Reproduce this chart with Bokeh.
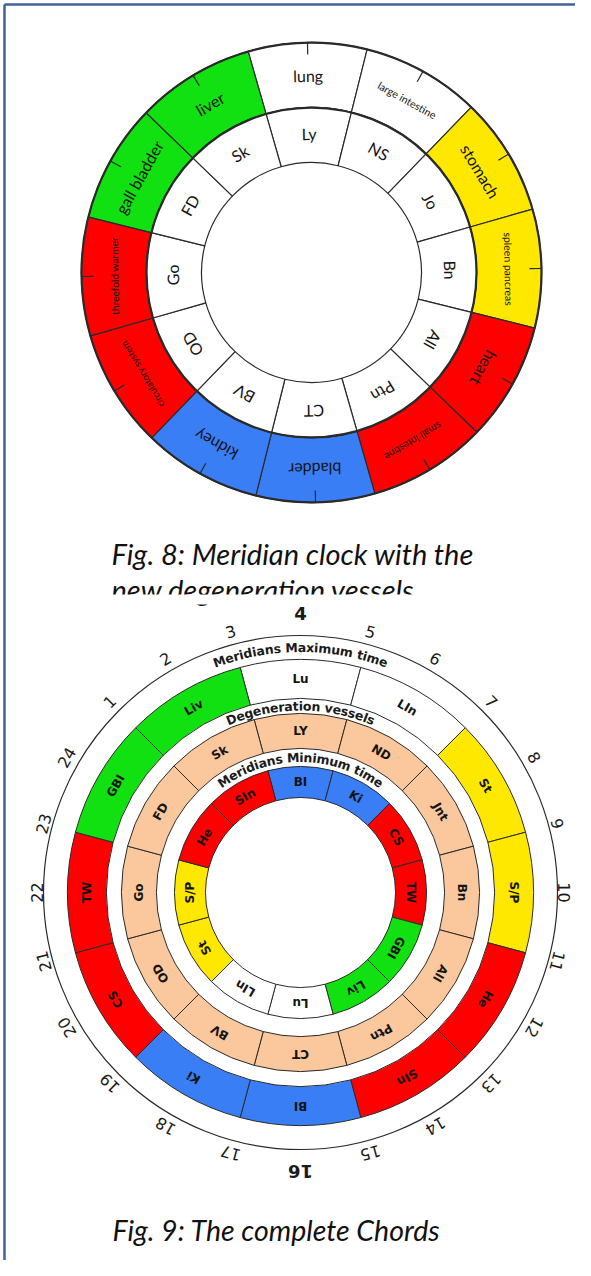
import math, glob
from bokeh.plotting import figure
from bokeh.models import ColumnDataSource, Range1d
from bokeh.core.properties import value
from bokeh.embed import file_html
from bokeh.resources import INLINE

# ---------------- data ----------------
# Fig. 8 : meridian clock (outer ring organs, inner ring vessels), clockwise from top
f8_organs = ["lung", "large intestine", "stomach", "spleen pancreas", "heart", "small intestine",
             "bladder", "kidney", "circulatory system", "threefold warmer", "gall bladder", "liver"]
f8_organ_colors = ["#FFFFFF", "#FFFFFF", "#FFE800", "#FFE800", "#FF0000", "#FF0000",
                   "#3A7EF6", "#3A7EF6", "#FF0000", "#FF0000", "#11E011", "#11E011"]
f8_vessels = ["Ly", "NS", "Jo", "Bn", "All", "Ptn", "CT", "BV", "OD", "Go", "FD", "Sk"]

# Fig. 9 : the complete chords, clockwise from top
f9_max = ["Lu", "LIn", "St", "S/P", "He", "SIn", "BI", "Ki", "CS", "TW", "GBI", "Liv"]
f9_max_colors = ["#FFFFFF", "#FFFFFF", "#FFE800", "#FFE800", "#FF0000", "#FF0000",
                 "#3A7EF6", "#3A7EF6", "#FF0000", "#FF0000", "#11E011", "#11E011"]
f9_deg = ["LY", "ND", "Jnt", "Bn", "All", "Ptn", "CT", "BV", "OD", "Go", "FD", "Sk"]
f9_min = ["BI", "Ki", "CS", "TW", "GBI", "Liv", "Lu", "LIn", "St", "S/P", "He", "SIn"]
f9_min_colors = ["#3A7EF6", "#3A7EF6", "#FF0000", "#FF0000", "#11E011", "#11E011",
                 "#FFFFFF", "#FFFFFF", "#FFE800", "#FFE800", "#FF0000", "#FF0000"]
hours = [str(h) for h in range(1, 25)]
ring_titles = ["Meridians Maximum time", "Degeneration vessels", "Meridians Minimum time"]
caption8 = ["Fig. 8:  Meridian clock with the", "new degeneration vessels"]
caption9 = "Fig. 9: The complete Chords"

# ---------------- styles ----------------
f8_organ_sizes = [16, 10.5, 16, 10.5, 16, 10.3, 16, 16, 9.5, 10.2, 16, 16]
PEACH = "#FAC89C"
LINE = "#2a2a2a"

# char width helper (DejaVu Sans Bold)
_fb = {' ': .348, 'M': .995, 'D': .830, 'e': .678, 'r': .493, 'i': .343, 'd': .716, 'a': .675,
       'n': .712, 's': .595, 'x': .663, 'm': 1.042, 'u': .712, 't': .478, 'g': .716, 'o': .687,
       'v': .652, 'l': .343}
try:
    from PIL import ImageFont
    _paths = glob.glob('/usr/share/fonts/**/DejaVuSans-Bold.ttf', recursive=True)
    _font = ImageFont.truetype(_paths[0], 200)
    def cw(ch):
        return _font.getlength(ch) / 200.0
except Exception:
    def cw(ch):
        return _fb.get(ch, 0.65)

W, H = 575, 1260
p = figure(width=W, height=H, x_range=Range1d(8, 8 + W), y_range=Range1d(-(8 + H), -8),
           output_backend="svg", toolbar_location=None, x_axis_type=None, y_axis_type=None,
           min_border=0)
p.outline_line_color = None
p.grid.visible = False
p.background_fill_color = "white"
p.border_fill_color = "white"

# page border (blue frame)
p.segment(x0=[12, 12], y0=[-12, -12], x1=[12, 600], y1=[-1290, -12], line_color="#41619F", line_width=2.5)


def ring(cx, cy, rin, rout, n, colors, rot=0.0, lw=1.0):
    centers = [math.radians(90 + rot - 360.0 / n * i) for i in range(n)]
    half = math.radians(180.0 / n)
    src = ColumnDataSource(dict(s=[c - half for c in centers], e=[c + half for c in centers], c=colors))
    p.annular_wedge(x=cx, y=cy, inner_radius=rin, outer_radius=rout, start_angle="s", end_angle="e",
                    fill_color="c", line_color=LINE, line_width=lw, source=src, direction="anticlock")
    return centers


def labels(cx, cy, r, centers, texts, font, size, style="normal", color="#1c1c1c"):
    if not isinstance(size, list):
        size = [size] * len(texts)
    if not isinstance(r, list):
        r = [r] * len(texts)
    src = ColumnDataSource(dict(
        x=[cx + rr * math.cos(t) for rr, t in zip(r, centers)],
        y=[cy + rr * math.sin(t) for rr, t in zip(r, centers)],
        a=[t - math.pi / 2 for t in centers], t=texts, fs=["%spx" % s for s in size]))
    p.text(x="x", y="y", text="t", angle="a", source=src, text_align="center", text_baseline="middle",
           text_font=value(font), text_font_size="fs", text_font_style=style, text_color=color)


def arc_text(cx, cy, r, txt, size):
    widths = [cw(ch) * size for ch in txt]
    total = sum(widths)
    xs, ys, ang, ch_ = [], [], [], []
    s = 0.0
    for ch, w in zip(txt, widths):
        mid = s + w / 2
        th = math.pi / 2 + (total / 2 - mid) / r
        xs.append(cx + r * math.cos(th)); ys.append(cy + r * math.sin(th))
        ang.append(th - math.pi / 2); ch_.append(ch)
        s += w
    src = ColumnDataSource(dict(x=xs, y=ys, a=ang, t=ch_))
    p.text(x="x", y="y", text="t", angle="a", source=src, text_align="center", text_baseline="middle",
           text_font=value("DejaVu Sans"), text_font_style="bold", text_font_size="%spx" % size,
           text_color="#1a1a1a")

# ---------------- Fig. 8 ----------------
c1x, c1y = 319, -280
ROT1 = 1.0
cent = ring(c1x, c1y, 165, 230, 12, f8_organ_colors, rot=ROT1, lw=1.2)
ring(c1x, c1y, 110, 165, 12, ["#FFFFFF"] * 12, rot=ROT1, lw=1.2)
p.circle(x=[c1x, c1x], y=[c1y, c1y], radius=[230, 165], fill_color=None, line_color=LINE, line_width=2.2)
p.segment(x0=[c1x + 230 * math.cos(t) for t in cent], y0=[c1y + 230 * math.sin(t) for t in cent],
          x1=[c1x + 218 * math.cos(t) for t in cent], y1=[c1y + 218 * math.sin(t) for t in cent],
          line_color=LINE, line_width=1.2)
labels(c1x, c1y, 197, cent, f8_organs, "Lato", f8_organ_sizes, "normal", "#141414")
labels(c1x, c1y, 139, cent, f8_vessels, "Lato", 16, "normal", "#141414")

p.text(x=[119, 119], y=[-561, -597], text=caption8, text_font=value("Lato"), text_font_style="italic",
       text_font_size="29px", text_align="left", text_baseline="alphabetic", text_color="#111111")
p.quad(left=100, right=540, top=-602, bottom=-612, fill_color="white", line_color=None)

# ---------------- Fig. 9 ----------------
c2x, c2y = 308, -900
p.circle(x=c2x, y=c2y, radius=257, fill_color=None, line_color=LINE, line_width=1.2)
cmax = ring(c2x, c2y, 194, 233, 12, f9_max_colors)
cdeg = ring(c2x, c2y, 144, 179, 12, [PEACH] * 12)
cmin = ring(c2x, c2y, 95, 126, 12, f9_min_colors)
labels(c2x, c2y, 213.5, cmax, f9_max, "DejaVu Sans", 12, "bold", "#141414")
labels(c2x, c2y, 161.5, cdeg, f9_deg, "DejaVu Sans", 12, "bold", "#141414")
labels(c2x, c2y, 110.5, cmin, f9_min, "DejaVu Sans", 12, "bold", "#141414")
arc_text(c2x, c2y, 245, ring_titles[0], 12.5)
arc_text(c2x, c2y, 186.5, ring_titles[1], 12.5)
arc_text(c2x, c2y, 135, ring_titles[2], 12.5)

hc = [math.radians(90 - 15 * (int(h) - 4)) for h in hours]
big = [h in ("4", "16") for h in hours]
small_h = [h for h, b in zip(hours, big) if not b]
_rmap = {"10": 263, "9": 266, "11": 266, "22": 264, "21": 266, "23": 266}
small_r = [_rmap.get(h, 270) for h in small_h]
labels(c2x, c2y, small_r, [t for t, b in zip(hc, big) if not b], small_h,
       "DejaVu Sans", 16, "normal", "#1a1a1a")
labels(c2x, c2y, 279, [t for t, b in zip(hc, big) if b], [h for h, b in zip(hours, big) if b],
       "DejaVu Sans", 18, "bold", "#1a1a1a")

p.text(x=[120], y=[-1237], text=[caption9], text_font=value("Lato"), text_font_style="italic",
       text_font_size="28.5px", text_align="left", text_baseline="alphabetic", text_color="#111111")

open("out.html", "w").write(file_html(p, INLINE))
